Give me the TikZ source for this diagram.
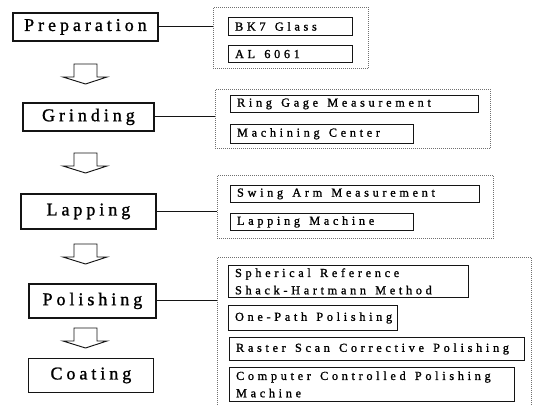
\documentclass[tikz,border=0pt]{standalone}
\usepackage{fontspec}
\usepackage{xcolor}
\usepackage{tikz}
\definecolor{PFInk}{HTML}{141414}
\definecolor{PFDot}{HTML}{707070}
\newfontfamily\stagefont[LetterSpace=22,FakeBold=1.2]{Liberation Serif}
\newfontfamily\itemfont[LetterSpace=30,FakeBold=1.2]{Liberation Serif}
\newcommand\wsp{\hspace{0.75em}}

\tikzset{
  stagebox/.style={draw=PFInk,line width=1.4pt,anchor=north west,inner sep=0pt,
    font=\stagefont\fontsize{13.5pt}{16pt}\selectfont},
  itembox/.style={draw=PFInk,line width=.6pt,anchor=north west,inner xsep=5pt,
    inner ysep=1.5pt,align=left,font=\itemfont\fontsize{9.2pt}{13pt}\selectfont},
  groupbox/.style={draw=PFDot,densely dotted,line width=.5pt,anchor=north west,inner sep=0pt},
  feed/.style={draw=PFInk,line width=.8pt},
  flowarrow/.style={draw=PFInk,line width=.7pt,fill=white,line join=miter}
}

\begin{document}
\begin{tikzpicture}[x=0.75pt,y=-0.75pt]
\path[use as bounding box] (0,0) rectangle (539,404);
% process steps
\node[stagebox,minimum width=108.75pt,minimum height=21pt] (prep) at (12,12) {Preparation};
\node[stagebox,minimum width=98.25pt,minimum height=21pt] (grind) at (22,102) {Grinding};
\node[stagebox,minimum width=101.25pt,minimum height=26.25pt] (lap) at (20,193) {Lapping};
\node[stagebox,minimum width=95.25pt,minimum height=25.5pt] (pol) at (28,283) {Polishing};
\node[stagebox,line width=.6pt,minimum width=93.75pt,minimum height=25.5pt] (coat) at (28,358) {Coating};
% hollow arrows between steps
\foreach \ay in {64,153,244,328}
  \draw[flowarrow] (74,\ay) -- (97,\ay) -- (97,\ay+13) -- (107,\ay+13) -- (85.5,\ay+20)
    -- (63,\ay+13) -- (74,\ay+13) -- cycle;
% dotted groups
\node[groupbox,minimum width=116.25pt,minimum height=45.75pt] (g1) at (213,7) {};
\node[groupbox,minimum width=206.25pt,minimum height=44.25pt] (g2) at (215,89) {};
\node[groupbox,minimum width=207pt,minimum height=47.25pt] (g3) at (217,175) {};
\node[groupbox,minimum width=235.5pt,minimum height=118pt] (g4) at (217,257) {};
% items
\node[itembox,text width=83pt,minimum height=13.5pt] (bk) at (228,17) {BK7\wsp Glass};
\node[itembox,text width=83pt,minimum height=13pt] (al) at (228,45) {AL\wsp 6061};
\node[itembox,text width=176pt,minimum height=12.75pt] (ring) at (230,95) {Ring\wsp Gage\wsp Measurement};
\node[itembox,text width=127pt,minimum height=14pt] (mach) at (230,124) {Machining\wsp Center};
\node[itembox,text width=177pt,minimum height=12.75pt] (swing) at (230,185) {Swing\wsp Arm\wsp Measurement};
\node[itembox,text width=127pt,minimum height=12.75pt] (lapm) at (230,213) {Lapping\wsp Machine};
\node[itembox,text width=170pt,minimum height=24pt] (sph) at (228,265) {Spherical\wsp Reference\\Shack-Hartmann\wsp Method};
\node[itembox,text width=116.75pt,minimum height=18.75pt] (onep) at (228,305) {One-Path\wsp Polishing};
\node[itembox,text width=211.25pt,minimum height=17.25pt] (rast) at (229,337) {Raster\wsp Scan\wsp Corrective\wsp Polishing};
\node[itembox,text width=203.75pt,minimum height=25.5pt] (ccp) at (229,367) {Computer\wsp Controlled\wsp Polishing\\Machine};
% links
\draw[feed] (prep.east) -- (prep.east -| g1.west);
\draw[feed] (grind.east) -- (grind.east -| g2.west);
\draw[feed] (lap.east) -- (lap.east -| g3.west);
\draw[feed] (pol.east) -- (pol.east -| g4.west);
\end{tikzpicture}
\end{document}
